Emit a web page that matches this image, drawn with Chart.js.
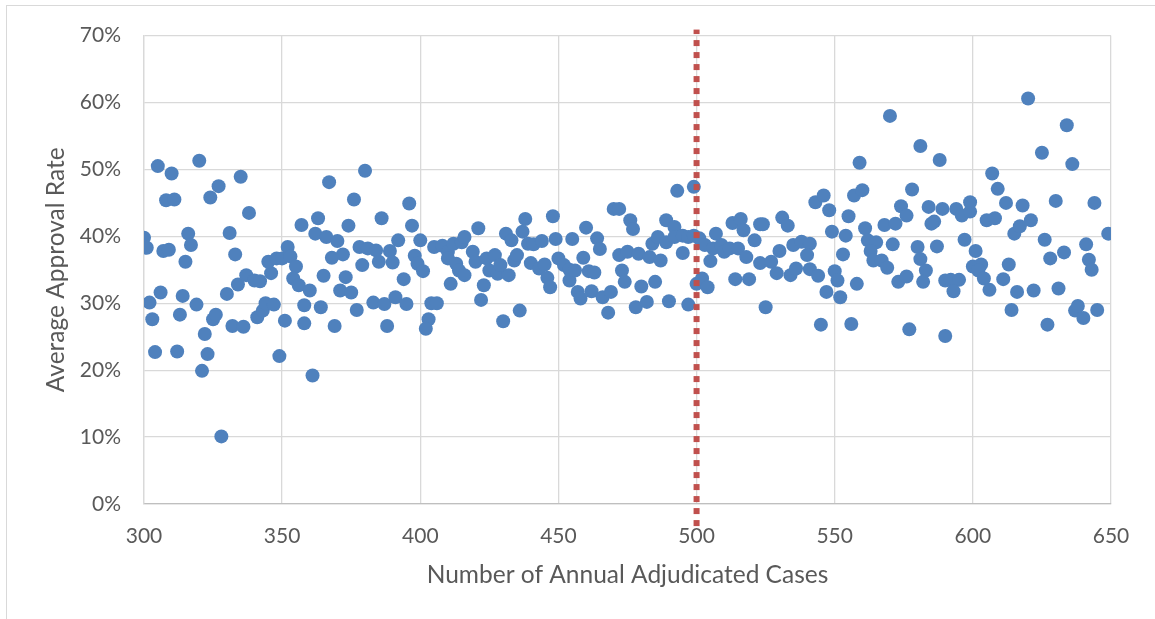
<!DOCTYPE html>
<html>
<head>
<meta charset="utf-8">
<script src="https://cdn.jsdelivr.net/npm/chart.js@4.4.0/dist/chart.umd.min.js"></script>
<style>
    body { margin: 0; background: #fff; overflow: hidden; }
    #frame { position: absolute; left: 6px; top: 5px; width: 1300px; height: 800px;
             border-left: 1px solid #d9d9d9; border-top: 1px solid #d9d9d9; }
    #wrap { position: absolute; left: 0; top: 0; width: 1155px; height: 619px; }
</style>
</head>
<body>
<div id="frame"></div>
<div id="wrap"><canvas id="approvalChart" width="1155" height="619"></canvas></div>
<script>
// cases per year vs average approval rate (%)
const caseCounts = [
    305, 310, 320, 308, 311, 327, 324, 335, 338, 357, 300, 301, 307, 309, 316, 317, 315, 331, 333, 306,
    302, 303, 314, 313, 319, 304, 312, 322, 323, 321, 325, 326, 328, 330, 334, 337, 340, 342, 346, 345,
    348, 350, 352, 353, 355, 354, 356, 332, 336, 341, 343, 344, 347, 351, 349, 358, 358,
    360, 361, 364, 369, 363, 362, 366, 370, 368, 372, 365, 373, 371, 375, 377, 367, 380, 376, 374,
    378, 381, 384, 379, 385, 386, 389, 390, 392, 394, 383, 387, 391, 395, 388, 396, 397, 400, 398, 399,
    401, 404, 406, 403, 402, 405, 408, 410, 410, 413, 414, 411, 412, 415, 416,
    416, 421, 419, 420, 423, 422, 424, 427, 425, 428, 432, 429, 430, 436, 431, 433, 434, 435, 438, 437,
    439, 441, 444, 440, 443, 445, 446, 447, 448, 449, 450, 452, 454, 454, 456, 455, 457, 458, 460, 459,
    461, 463, 462, 464, 465, 466, 469, 468, 470, 472, 472, 473, 474,
    476, 477, 475, 479, 483, 487, 480, 485, 478, 482, 490, 497, 493, 499, 489, 492, 484, 486, 489, 492,
    495, 497, 495, 499, 501, 500, 502, 504, 505, 507, 503, 506, 509, 510, 512, 515, 513, 516, 517, 518,
    521, 523, 524, 514, 519, 523, 527, 529, 530, 525, 531,
    533, 535, 538, 541, 540, 534, 536, 541, 544, 543, 546, 548, 549, 550, 551, 547, 552, 545, 556, 553,
    554, 555, 557, 560, 559, 570, 558, 561, 562, 565, 563, 564, 567, 569, 568, 572, 571, 574, 576, 578,
    573, 576, 577, 580, 581, 581, 584, 586, 585, 583, 582, 587, 588, 589, 590, 590,
    594, 596, 599, 599, 597, 601, 600, 603, 602, 604, 606, 592, 595, 593, 607, 609, 612, 605, 608, 615,
    617, 621, 618, 613, 611, 616, 622, 614, 620, 625, 634, 636, 630, 644, 649, 626, 628, 633, 641, 642,
    643, 631, 627, 637, 638, 640, 645
];
const approvalRates = [
    50.5, 49.4, 51.3, 45.4, 45.5, 47.5, 45.8, 48.9, 43.5, 41.7, 39.8, 38.3, 37.8, 38.0, 40.4, 38.7, 36.2, 40.5, 37.3, 31.6,
    30.1, 27.6, 31.1, 28.3, 29.8, 22.7, 22.8, 25.4, 22.4, 19.9, 27.6, 28.3, 10.1, 31.4, 32.8, 34.2, 33.4, 33.3, 34.5, 36.2,
    36.7, 36.7, 38.4, 37.0, 35.5, 33.7, 32.7, 26.6, 26.5, 27.9, 28.9, 30.0, 29.8, 27.4, 22.1, 29.7, 27.0,
    31.9, 19.2, 29.4, 26.6, 42.7, 40.4, 39.9, 39.3, 36.8, 37.3, 34.1, 33.9, 31.9, 31.6, 29.0, 48.1, 49.8, 45.5, 41.6,
    38.4, 38.2, 37.9, 35.7, 36.2, 42.7, 37.8, 36.1, 39.4, 33.6, 30.1, 29.9, 30.9, 29.9, 26.6, 44.9, 41.6, 39.4, 37.1, 35.9,
    34.8, 30.0, 30.0, 27.6, 26.2, 38.4, 38.6, 37.7, 36.7, 35.9, 34.9, 32.9, 38.9, 39.1, 39.9,
    34.2, 41.2, 37.7, 36.2, 32.7, 30.5, 36.7, 37.2, 34.9, 34.4, 34.2, 35.7, 27.3, 28.9, 40.4, 39.4, 36.4, 37.2, 42.6, 40.7,
    38.9, 38.8, 39.3, 36.0, 35.2, 35.8, 33.8, 32.4, 43.0, 39.6, 36.7, 35.7, 35.0, 33.4, 34.9, 39.6, 31.7, 30.7, 41.3, 36.8,
    34.8, 34.6, 31.8, 39.7, 38.1, 30.9, 31.7, 28.6, 44.1, 44.1, 37.2, 34.9, 33.2,
    42.4, 41.1, 37.7, 37.4, 36.9, 36.4, 32.5, 33.2, 29.4, 30.2, 30.3, 29.8, 46.8, 47.4, 42.4, 41.4, 38.9, 39.9, 39.1, 39.9,
    40.1, 39.9, 37.5, 40.1, 39.7, 32.9, 33.7, 32.4, 36.3, 40.4, 38.7, 38.2, 38.7, 37.7, 38.2, 38.2, 42.0, 42.6, 40.9, 36.9,
    39.4, 41.8, 41.8, 33.6, 33.6, 36.0, 36.2, 34.5, 37.8, 29.4, 42.8,
    41.6, 38.7, 39.2, 38.9, 37.2, 34.2, 35.2, 35.1, 34.1, 45.1, 46.1, 43.9, 40.7, 34.8, 33.4, 31.7, 30.9, 26.8, 26.9, 37.3,
    40.1, 43.0, 46.1, 46.9, 51.0, 58.0, 32.9, 41.2, 39.4, 39.1, 37.8, 36.4, 36.4, 35.3, 41.7, 41.9, 38.8, 44.5, 43.1, 47.0,
    33.2, 34.0, 26.1, 38.4, 36.6, 53.5, 44.4, 42.2, 41.9, 34.9, 33.2, 38.5, 51.4, 44.1, 33.4, 25.1,
    44.1, 43.1, 43.7, 45.1, 39.5, 37.8, 35.5, 35.8, 34.9, 33.7, 32.0, 33.5, 33.5, 31.8, 49.4, 47.1, 45.0, 42.4, 42.7, 40.4,
    41.5, 42.4, 44.6, 35.8, 33.6, 31.7, 31.9, 29.0, 60.6, 52.5, 56.6, 50.8, 45.3, 45.0, 40.4, 39.5, 36.7, 37.6, 38.8, 36.5,
    35.0, 32.2, 26.8, 28.9, 29.6, 27.8, 29.0
];

// dotted threshold at 500 cases
const thresholdX = [500, 500];
const thresholdY = [-3.3, 70.9];

const textColor = '#595959';
const gridColor = '#d9d9d9';
const fontFamily = 'Lato, "Open Sans", sans-serif';

const scatterPoints = caseCounts.map((c, i) => ({x: c, y: approvalRates[i]}));
const thresholdPoints = thresholdX.map((c, i) => ({x: c, y: thresholdY[i]}));

new Chart(document.getElementById('approvalChart'), {
    type: 'scatter',
    data: {
        datasets: [{
            type: 'line',
            data: thresholdPoints,
            borderColor: '#c0504d',
            borderWidth: 6,
            borderDash: [6, 6],
            borderCapStyle: 'butt',
            pointRadius: 0,
            clip: false,
            order: 0
        }, {
            data: scatterPoints,
            backgroundColor: '#4f81bd',
            borderColor: '#4f81bd',
            borderWidth: 0,
            pointRadius: 7,
            order: 1
        }]
    },
    options: {
        responsive: false,
        animation: false,
        layout: {padding: {top: 35, right: 44, left: 0, bottom: 0}},
        plugins: {
            legend: {display: false},
            tooltip: {enabled: false}
        },
        scales: {
            x: {
                type: 'linear',
                min: 300,
                max: 650,
                ticks: {stepSize: 50, color: textColor, font: {family: fontFamily, size: 21}, padding: 20},
                grid: {color: gridColor, lineWidth: 1.3, drawTicks: false},
                border: {color: '#bfbfbf', width: 1.3},
                title: {
                    display: true,
                    text: 'Number of Annual Adjudicated Cases',
                    color: textColor,
                    font: {family: fontFamily, size: 24.5},
                    padding: {bottom: 29}
                },
                afterFit: (scale) => { scale.height = 115; }
            },
            y: {
                min: 0,
                max: 70,
                ticks: {
                    stepSize: 10,
                    color: textColor,
                    font: {family: fontFamily, size: 21},
                    padding: 23,
                    callback: (v) => v + '%'
                },
                grid: {color: gridColor, lineWidth: 1.3, drawTicks: false},
                border: {color: gridColor, width: 1.3},
                title: {
                    display: true,
                    text: 'Average Approval Rate',
                    color: textColor,
                    font: {family: fontFamily, size: 24.5},
                    padding: {top: 41}
                },
                afterFit: (scale) => { scale.width = 144; }
            }
        }
    }
});
</script>
</body>
</html>
